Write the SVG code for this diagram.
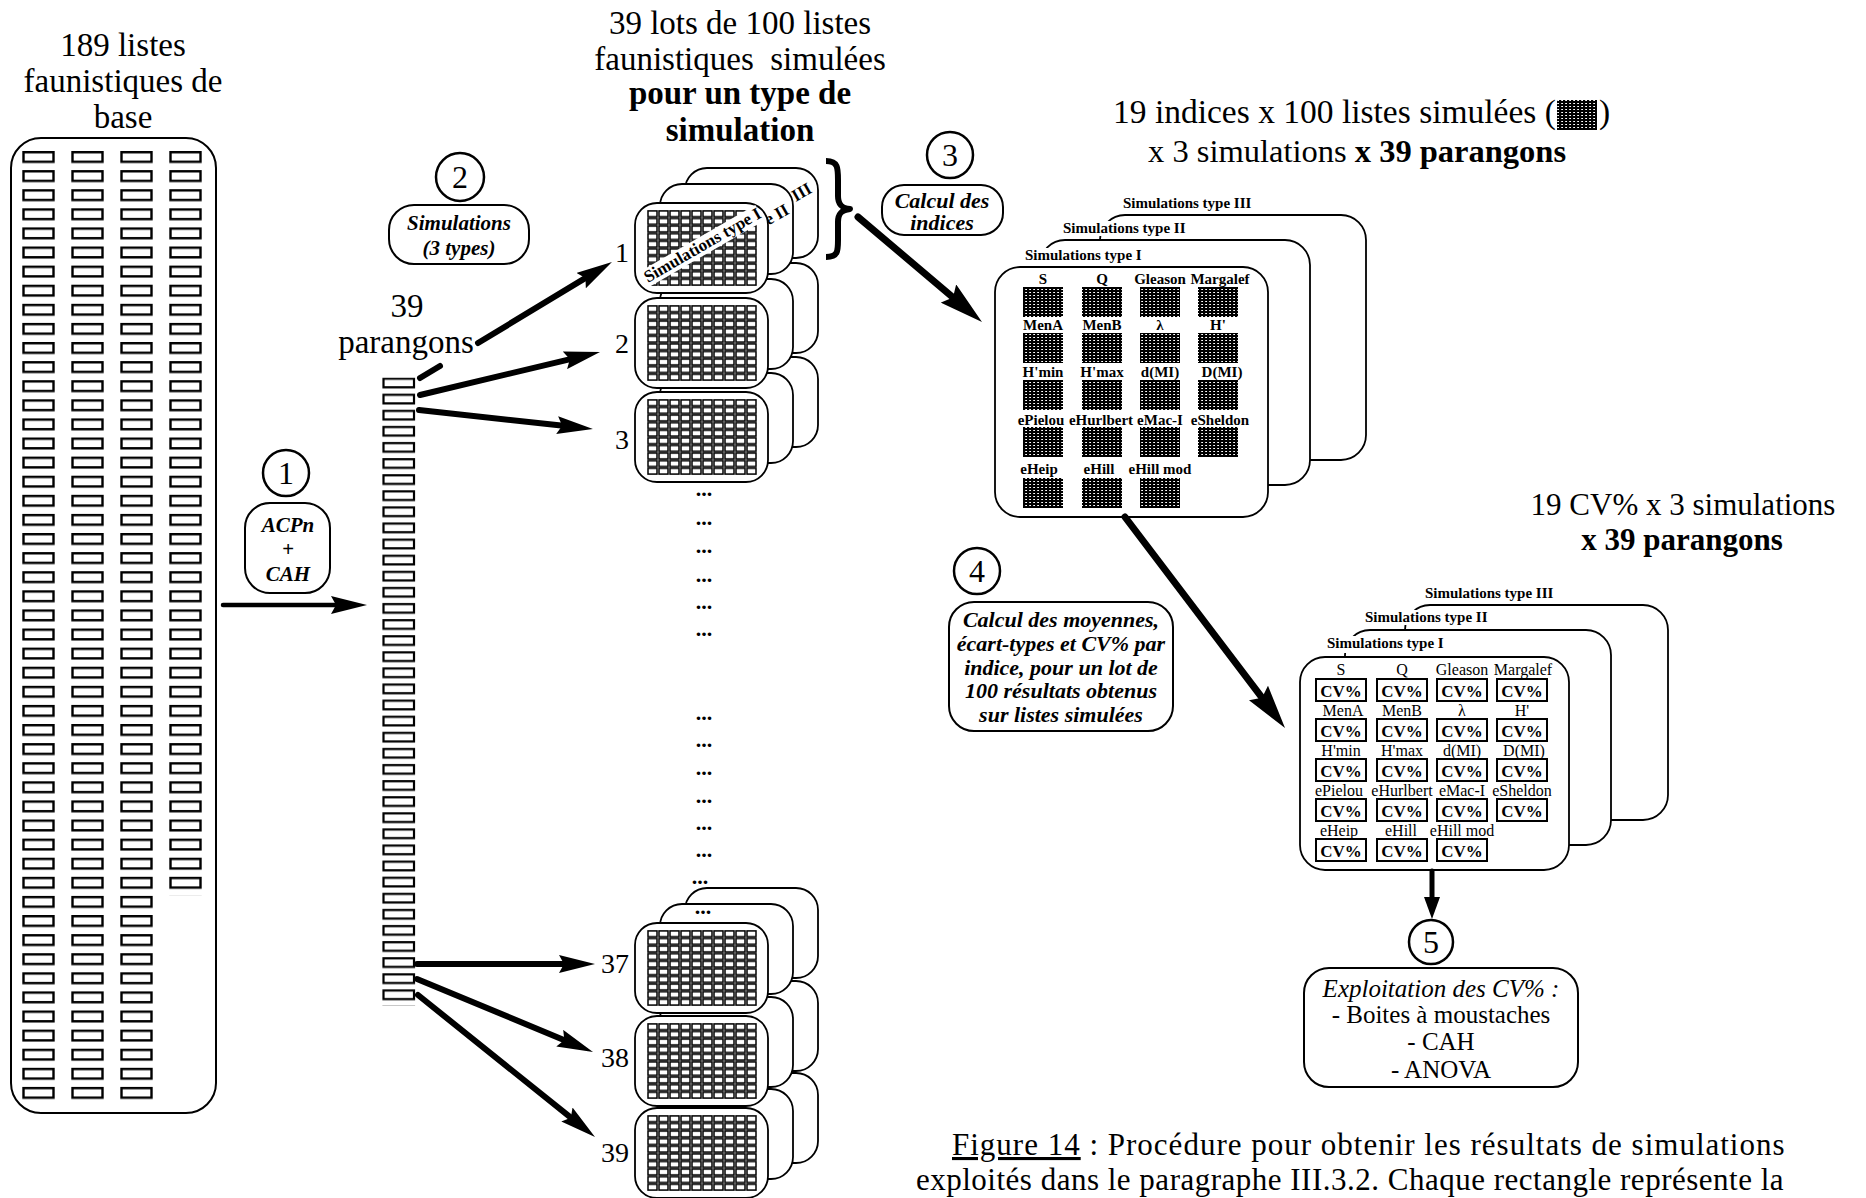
<svg xmlns="http://www.w3.org/2000/svg" width="1866" height="1198" viewBox="0 0 1866 1198">
<style>
text{font-family:"Liberation Serif","Times New Roman",serif;fill:#000}
.t33{font-size:33px}
.b33{font-size:33px;font-weight:bold}
.mid{text-anchor:middle}
.bi{font-size:22px;font-style:italic;font-weight:bold;text-anchor:middle}
.num{font-size:32px;text-anchor:middle}
.lbl{font-size:15px;font-weight:bold}
.rl{font-size:17px;font-weight:bold}
.ix{font-size:15px;font-weight:bold;text-anchor:middle}
.cvl{font-size:16px;text-anchor:middle}
.cvt{font-size:17px;font-weight:bold;text-anchor:middle}
.dots{font-size:22px;font-weight:bold;text-anchor:middle}
.stn{font-size:28px;text-anchor:end}
.cap{font-size:31px}
.box{fill:#fff;stroke:#000;stroke-width:2}
.card{fill:#fff;stroke:#000;stroke-width:1.8}
.circ{fill:#fff;stroke:#000;stroke-width:2.5}
.sq{fill:url(#pH)}
.cvb{fill:#fff;stroke:#000;stroke-width:2}
.ln{stroke:#000;fill:none;stroke-linecap:round}
.wbg{fill:#fff}
</style>
<defs>
<pattern id="pL" patternUnits="userSpaceOnUse" x="22" y="151" width="49" height="19.1"><rect x="1.5" y="1.2" width="30" height="9.6" fill="#fff" stroke="#000" stroke-width="2.4"/></pattern>
<pattern id="pP" patternUnits="userSpaceOnUse" x="382" y="377.5" width="34" height="16.1"><rect x="1.5" y="1.2" width="30.5" height="8.6" fill="#fff" stroke="#000" stroke-width="2.2"/></pattern>
<pattern id="pG" patternUnits="userSpaceOnUse" width="11" height="7.6"><rect x="1" y="0.9" width="9" height="5.8" fill="#fff" stroke="#000" stroke-width="1.5"/></pattern>
<pattern id="pH" patternUnits="userSpaceOnUse" width="4" height="3"><rect width="4" height="3" fill="#000"/><rect x="1.2" y="1" width="1.8" height="1" fill="#fff"/></pattern>
<marker id="ah" viewBox="0 0 36 18" markerWidth="36" markerHeight="18" refX="11" refY="9" orient="auto" markerUnits="userSpaceOnUse"><path d="M0,0 L36,9 L0,18 L5,9 Z" fill="#000"/></marker>
<marker id="ahL" viewBox="0 0 44 24" markerWidth="44" markerHeight="24" refX="14" refY="12" orient="auto" markerUnits="userSpaceOnUse"><path d="M0,0 L44,12 L0,24 L6,12 Z" fill="#000"/></marker>
<marker id="ahS" viewBox="0 0 22 16" markerWidth="22" markerHeight="16" refX="8" refY="8" orient="auto" markerUnits="userSpaceOnUse"><path d="M0,0 L22,8 L0,16 Z" fill="#000"/></marker>
<g id="g100"><rect width="110" height="76" fill="url(#pG)"/></g>
<g id="stk">
<rect class="card" x="50" y="-35" width="133" height="90" rx="22"/>
<rect class="card" x="25" y="-19" width="133" height="90" rx="22"/>
<rect class="card" x="0" y="0" width="133" height="90" rx="22"/>
<use href="#g100" x="12" y="7"/>
</g>
</defs>

<g id="base-lists">
<text class="t33 mid" x="123" y="56">189 listes</text>
<text class="t33 mid" x="123" y="92">faunistiques de</text>
<text class="t33 mid" x="123" y="128">base</text>
<rect class="box" x="11" y="138" width="205" height="975" rx="30" stroke-width="2.2"/>
<rect x="22" y="151" width="147" height="955" fill="url(#pL)"/>
<rect x="169" y="151" width="49" height="744.9" fill="url(#pL)"/>
</g>

<g id="step-1">
<circle class="circ" cx="286" cy="473" r="23"/>
<text class="num" x="286" y="484">1</text>
<rect class="box" x="245" y="503" width="85" height="90" rx="25"/>
<text class="bi" x="288" y="532" style="font-size:21px">ACPn</text>
<text class="bi" x="288" y="556" style="font-size:21px">+</text>
<text class="bi" x="288" y="581" style="font-size:21px">CAH</text>
</g>

<g id="parangons">
<text class="t33 mid" x="407" y="317">39</text>
<text class="t33 mid" x="406" y="353">parangons</text>
<rect x="382" y="377.5" width="34" height="627.9" fill="url(#pP)"/>
</g>

<g id="step-2">
<circle class="circ" cx="460" cy="177" r="24"/>
<text class="num" x="460" y="188">2</text>
<rect class="box" x="389" y="205" width="140" height="59" rx="25"/>
<text class="bi" x="459" y="230" style="font-size:21px">Simulations</text>
<text class="bi" x="459" y="255" style="font-size:21px">(3 types)</text>
</g>

<g id="simulated-lots">
<text class="t33 mid" x="740" y="34">39 lots de 100 listes</text>
<text class="t33 mid" x="740" y="70">faunistiques&#160; simulées</text>
<text class="b33 mid" x="740" y="104">pour un type de</text>
<text class="b33 mid" x="740" y="141">simulation</text>
<use href="#stk" x="635" y="1108"/>
<use href="#stk" x="635" y="1016"/>
<use href="#stk" x="635" y="923"/>
<use href="#stk" x="635" y="392"/>
<use href="#stk" x="635" y="298"/>
<g id="stack-1">
<rect class="card" x="685" y="168" width="133" height="90" rx="22"/>
<text class="rl" transform="translate(687,264.7) rotate(-30)">Simulations type III</text>
<rect class="card" x="660" y="184" width="133" height="90" rx="22"/>
<text class="rl" transform="translate(670,282.5) rotate(-30)">Simulations type II</text>
<rect class="card" x="635" y="203" width="133" height="90" rx="22"/>
<use href="#g100" x="647" y="210"/>
<g transform="translate(648,283) rotate(-30)"><rect class="wbg" x="-4" y="-14" width="136" height="18"/><text class="rl" x="0" y="0">Simulations type I</text></g>
</g>
<path d="M826,161 C838,161 838,168 838,180 L838,196 C838,205 842,208 850,209 C842,210 838,213 838,222 L838,240 C838,251 838,257 826,257" fill="none" stroke="#000" stroke-width="6" stroke-linejoin="round"/>
<text class="stn" x="629" y="262">1</text>
<text class="stn" x="629" y="353">2</text>
<text class="stn" x="629" y="449">3</text>
<text class="stn" x="629" y="973">37</text>
<text class="stn" x="629" y="1067">38</text>
<text class="stn" x="629" y="1162">39</text>
<text class="dots" x="704" y="496">...</text>
<text class="dots" x="704" y="525">...</text>
<text class="dots" x="704" y="553">...</text>
<text class="dots" x="704" y="582">...</text>
<text class="dots" x="704" y="609">...</text>
<text class="dots" x="704" y="636">...</text>
<text class="dots" x="704" y="720">...</text>
<text class="dots" x="704" y="747">...</text>
<text class="dots" x="704" y="775">...</text>
<text class="dots" x="704" y="803">...</text>
<text class="dots" x="704" y="830">...</text>
<text class="dots" x="704" y="857">...</text>
<text class="dots" x="700" y="884">...</text>
<text class="dots" x="703" y="914">...</text>
</g>

<g id="step-3">
<circle class="circ" cx="950" cy="155" r="23"/>
<text class="num" x="950" y="166">3</text>
<rect class="box" x="882" y="185" width="121" height="50" rx="22"/>
<text class="bi" x="942" y="208">Calcul des</text>
<text class="bi" x="942" y="230">indices</text>
</g>

<g id="indices">
<text class="t33" x="1113" y="123" style="font-size:33.5px">19 indices x 100 listes simulées (</text>
<rect class="sq" x="1557" y="100" width="40" height="30"/>
<text class="t33" x="1599" y="123" style="font-size:33.5px">)</text>
<text class="t33" x="1148" y="162" style="font-size:32.5px">x 3 simulations <tspan font-weight="bold">x 39 parangons</tspan></text>
<text class="lbl" x="1123" y="208">Simulations type III</text>
<rect class="card" x="1100" y="215" width="266" height="245" rx="25"/>
<rect class="wbg" x="1060" y="221" width="132" height="15"/>
<text class="lbl" x="1063" y="233">Simulations type II</text>
<rect class="card" x="1040" y="240" width="270" height="245" rx="25"/>
<rect class="wbg" x="1022" y="248" width="128" height="18"/>
<text class="lbl" x="1025" y="260">Simulations type I</text>
<rect class="card" x="995" y="267" width="273" height="250" rx="25"/>
<text class="ix" x="1043" y="284">S</text><text class="ix" x="1102" y="284">Q</text><text class="ix" x="1160" y="284">Gleason</text><text class="ix" x="1220" y="284">Margalef</text>
<rect class="sq" x="1023" y="287" width="40" height="30"/><rect class="sq" x="1082" y="287" width="40" height="30"/><rect class="sq" x="1140" y="287" width="40" height="30"/><rect class="sq" x="1198" y="287" width="40" height="30"/>
<text class="ix" x="1043" y="330">MenA</text><text class="ix" x="1102" y="330">MenB</text><text class="ix" x="1160" y="330">λ</text><text class="ix" x="1218" y="330">H'</text>
<rect class="sq" x="1023" y="333" width="40" height="30"/><rect class="sq" x="1082" y="333" width="40" height="30"/><rect class="sq" x="1140" y="333" width="40" height="30"/><rect class="sq" x="1198" y="333" width="40" height="30"/>
<text class="ix" x="1043" y="377">H'min</text><text class="ix" x="1102" y="377">H'max</text><text class="ix" x="1160" y="377">d(MI)</text><text class="ix" x="1222" y="377">D(MI)</text>
<rect class="sq" x="1023" y="380" width="40" height="30"/><rect class="sq" x="1082" y="380" width="40" height="30"/><rect class="sq" x="1140" y="380" width="40" height="30"/><rect class="sq" x="1198" y="380" width="40" height="30"/>
<text class="ix" x="1041" y="425">ePielou</text><text class="ix" x="1101" y="425">eHurlbert</text><text class="ix" x="1160" y="425">eMac-I</text><text class="ix" x="1220" y="425">eSheldon</text>
<rect class="sq" x="1023" y="427" width="40" height="30"/><rect class="sq" x="1082" y="427" width="40" height="30"/><rect class="sq" x="1140" y="427" width="40" height="30"/><rect class="sq" x="1198" y="427" width="40" height="30"/>
<text class="ix" x="1039" y="474">eHeip</text><text class="ix" x="1099" y="474">eHill</text><text class="ix" x="1160" y="474">eHill mod</text>
<rect class="sq" x="1023" y="478" width="40" height="30"/><rect class="sq" x="1082" y="478" width="40" height="30"/><rect class="sq" x="1140" y="478" width="40" height="30"/>
</g>

<g id="step-4">
<circle class="circ" cx="977" cy="571" r="23"/>
<text class="num" x="977" y="582">4</text>
<rect class="box" x="949" y="602" width="224" height="129" rx="25"/>
<text class="bi" x="1061" y="627">Calcul des moyennes,</text>
<text class="bi" x="1061" y="651">écart-types et CV% par</text>
<text class="bi" x="1061" y="675">indice, pour un lot de</text>
<text class="bi" x="1061" y="698">100 résultats obtenus</text>
<text class="bi" x="1061" y="722">sur listes simulées</text>
</g>

<g id="cv-results">
<text class="t33 mid" x="1683" y="515" style="font-size:31px">19 CV% x 3 simulations</text>
<text class="b33 mid" x="1682" y="550" style="font-size:31px">x 39 parangons</text>
<text class="lbl" x="1425" y="598">Simulations type III</text>
<rect class="card" x="1405" y="605" width="263" height="215" rx="25"/>
<rect class="wbg" x="1362" y="610" width="132" height="15"/>
<text class="lbl" x="1365" y="622">Simulations type II</text>
<rect class="card" x="1345" y="630" width="266" height="215" rx="25"/>
<rect class="wbg" x="1324" y="636" width="128" height="17"/>
<text class="lbl" x="1327" y="648">Simulations type I</text>
<rect class="card" x="1300" y="657" width="269" height="213" rx="25"/>
<text class="cvl" x="1341" y="675">S</text><text class="cvl" x="1402" y="675">Q</text><text class="cvl" x="1462" y="675">Gleason</text><text class="cvl" x="1523" y="675">Margalef</text>
<rect class="cvb" x="1316" y="679" width="50" height="22"/><rect class="cvb" x="1377" y="679" width="50" height="22"/><rect class="cvb" x="1437" y="679" width="50" height="22"/><rect class="cvb" x="1497" y="679" width="50" height="22"/>
<text class="cvt" x="1341" y="696.5">CV%</text><text class="cvt" x="1402" y="696.5">CV%</text><text class="cvt" x="1462" y="696.5">CV%</text><text class="cvt" x="1522" y="696.5">CV%</text>
<text class="cvl" x="1343" y="716">MenA</text><text class="cvl" x="1402" y="716">MenB</text><text class="cvl" x="1462" y="716">λ</text><text class="cvl" x="1522" y="716">H'</text>
<rect class="cvb" x="1316" y="719" width="50" height="22"/><rect class="cvb" x="1377" y="719" width="50" height="22"/><rect class="cvb" x="1437" y="719" width="50" height="22"/><rect class="cvb" x="1497" y="719" width="50" height="22"/>
<text class="cvt" x="1341" y="736.5">CV%</text><text class="cvt" x="1402" y="736.5">CV%</text><text class="cvt" x="1462" y="736.5">CV%</text><text class="cvt" x="1522" y="736.5">CV%</text>
<text class="cvl" x="1341" y="756">H'min</text><text class="cvl" x="1402" y="756">H'max</text><text class="cvl" x="1462" y="756">d(MI)</text><text class="cvl" x="1524" y="756">D(MI)</text>
<rect class="cvb" x="1316" y="759" width="50" height="22"/><rect class="cvb" x="1377" y="759" width="50" height="22"/><rect class="cvb" x="1437" y="759" width="50" height="22"/><rect class="cvb" x="1497" y="759" width="50" height="22"/>
<text class="cvt" x="1341" y="776.5">CV%</text><text class="cvt" x="1402" y="776.5">CV%</text><text class="cvt" x="1462" y="776.5">CV%</text><text class="cvt" x="1522" y="776.5">CV%</text>
<text class="cvl" x="1339" y="796">ePielou</text><text class="cvl" x="1402" y="796">eHurlbert</text><text class="cvl" x="1462" y="796">eMac-I</text><text class="cvl" x="1522" y="796">eSheldon</text>
<rect class="cvb" x="1316" y="799" width="50" height="22"/><rect class="cvb" x="1377" y="799" width="50" height="22"/><rect class="cvb" x="1437" y="799" width="50" height="22"/><rect class="cvb" x="1497" y="799" width="50" height="22"/>
<text class="cvt" x="1341" y="816.5">CV%</text><text class="cvt" x="1402" y="816.5">CV%</text><text class="cvt" x="1462" y="816.5">CV%</text><text class="cvt" x="1522" y="816.5">CV%</text>
<text class="cvl" x="1339" y="836">eHeip</text><text class="cvl" x="1401" y="836">eHill</text><text class="cvl" x="1462" y="836">eHill mod</text>
<rect class="cvb" x="1316" y="839" width="50" height="22"/><rect class="cvb" x="1377" y="839" width="50" height="22"/><rect class="cvb" x="1437" y="839" width="50" height="22"/>
<text class="cvt" x="1341" y="856.5">CV%</text><text class="cvt" x="1402" y="856.5">CV%</text><text class="cvt" x="1462" y="856.5">CV%</text>
</g>

<g id="step-5">
<circle class="circ" cx="1431" cy="942" r="22"/>
<text class="num" x="1431" y="953">5</text>
<rect class="box" x="1304" y="968" width="274" height="119" rx="25"/>
<text class="mid" x="1441" y="997" style="font-size:25px;font-style:italic">Exploitation des CV% :</text>
<text class="mid" x="1441" y="1023" style="font-size:25px">- Boites à moustaches</text>
<text class="mid" x="1441" y="1050" style="font-size:25px">- CAH</text>
<text class="mid" x="1441" y="1078" style="font-size:25px">- ANOVA</text>
</g>

<g id="caption">
<text class="cap" x="952" y="1155" letter-spacing="1"><tspan text-decoration="underline">Figure 14</tspan> : Procédure pour obtenir les résultats de simulations</text>
<text class="cap" x="916" y="1190" letter-spacing="0.5">exploités dans le paragraphe III.3.2. Chaque rectangle représente la</text>
</g>

<g id="connectors">
<line class="ln" x1="223" y1="605" x2="342" y2="605" stroke-width="4.5" marker-end="url(#ah)"/>
<line class="ln" x1="420" y1="378" x2="440" y2="366" stroke-width="6"/>
<line class="ln" x1="478" y1="343" x2="590.6" y2="274.9" stroke-width="6" marker-end="url(#ah)"/>
<line class="ln" x1="420" y1="395" x2="575.7" y2="357.8" stroke-width="6" marker-end="url(#ah)"/>
<line class="ln" x1="419" y1="410" x2="568.1" y2="426.3" stroke-width="6" marker-end="url(#ah)"/>
<line class="ln" x1="417" y1="964" x2="570" y2="964" stroke-width="6" marker-end="url(#ah)"/>
<line class="ln" x1="417" y1="979" x2="569.9" y2="1042.4" stroke-width="6" marker-end="url(#ah)"/>
<line class="ln" x1="418" y1="995" x2="575.5" y2="1121.4" stroke-width="6" marker-end="url(#ah)"/>
<line class="ln" x1="858" y1="217" x2="959.1" y2="302.6" stroke-width="7" marker-end="url(#ahL)"/>
<line class="ln" x1="1125" y1="517" x2="1266.9" y2="704.1" stroke-width="7" marker-end="url(#ahL)"/>
<line class="ln" x1="1432" y1="871" x2="1432" y2="905" stroke-width="5" marker-end="url(#ahS)"/>
</g>
</svg>
